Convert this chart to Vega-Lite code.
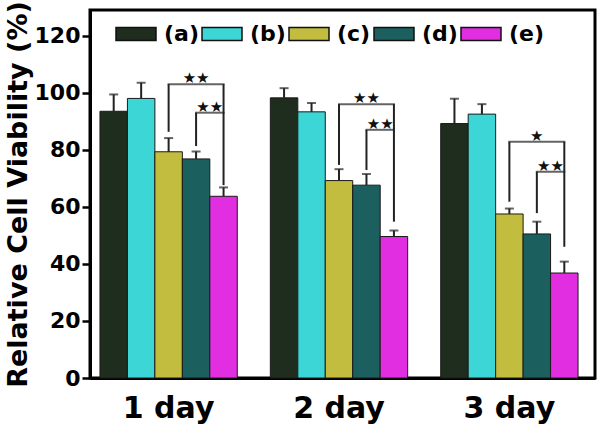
{
  "$schema": "https://vega.github.io/schema/vega-lite/v6.json",
  "width": 505,
  "height": 368,
  "autosize": "none",
  "padding": {"left": 90, "top": 10, "right": 5, "bottom": 54},
  "background": "white",
  "config": {
    "view": {"stroke": "black", "strokeWidth": 3},
    "font": "DejaVu Sans"
  },
  "datasets": {
    "bars": [
      {"day": "1 day", "series": "(a)", "value": 93.5, "upper": 99.4},
      {"day": "1 day", "series": "(b)", "value": 98, "upper": 103.5},
      {"day": "1 day", "series": "(c)", "value": 79.3, "upper": 84.1},
      {"day": "1 day", "series": "(d)", "value": 76.8, "upper": 79.4},
      {"day": "1 day", "series": "(e)", "value": 63.7, "upper": 66.8},
      {"day": "2 day", "series": "(a)", "value": 98.2, "upper": 101.6},
      {"day": "2 day", "series": "(b)", "value": 93.3, "upper": 96.4},
      {"day": "2 day", "series": "(c)", "value": 69.2, "upper": 73.2},
      {"day": "2 day", "series": "(d)", "value": 67.6, "upper": 71.5},
      {"day": "2 day", "series": "(e)", "value": 49.6, "upper": 51.7},
      {"day": "3 day", "series": "(a)", "value": 89.2, "upper": 97.9},
      {"day": "3 day", "series": "(b)", "value": 92.5, "upper": 96},
      {"day": "3 day", "series": "(c)", "value": 57.5, "upper": 59.4},
      {"day": "3 day", "series": "(d)", "value": 50.5, "upper": 54.8},
      {"day": "3 day", "series": "(e)", "value": 36.8, "upper": 40.8}
    ],
    "legs": [
      {"day": "1 day", "series": "(c)", "top": 103, "bottom": 86.3},
      {"day": "1 day", "series": "(d)", "top": 93, "bottom": 81.3},
      {"day": "1 day", "series": "(e)", "top": 103, "bottom": 67.6},
      {"day": "2 day", "series": "(c)", "top": 96, "bottom": 74.7},
      {"day": "2 day", "series": "(d)", "top": 87, "bottom": 72.9},
      {"day": "2 day", "series": "(e)", "top": 96, "bottom": 54.8},
      {"day": "3 day", "series": "(c)", "top": 82.8, "bottom": 61.8},
      {"day": "3 day", "series": "(d)", "top": 72.3, "bottom": 57.8},
      {"day": "3 day", "series": "(e)", "top": 82.8, "bottom": 46}
    ],
    "outer": [
      {"day": "1 day", "series": "(d)", "y": 103, "label": "★★"},
      {"day": "2 day", "series": "(d)", "y": 96, "label": "★★"},
      {"day": "3 day", "series": "(d)", "y": 82.8, "label": "★"}
    ],
    "inner": [
      {"day": "1 day", "y": 93, "label": "★★"},
      {"day": "2 day", "y": 87, "label": "★★"},
      {"day": "3 day", "y": 72.3, "label": "★★"}
    ]
  },
  "encoding": {
    "x": {
      "field": "day", "type": "nominal",
      "scale": {"domain": ["1 day", "2 day", "3 day"], "paddingInner": 0.194, "paddingOuter": 0.079, "align": 0.37},
      "axis": {
        "title": null, "labelAngle": 0, "ticks": false,
        "labelFont": "DejaVu Sans", "labelFontWeight": "bold", "labelFontSize": 30, "labelColor": "black",
        "labelPadding": 15, "domainColor": "black", "domainWidth": 3
      }
    }
  },
  "layer": [
    {
      "data": {"name": "bars"},
      "mark": {"type": "bar", "stroke": "#1a1a1a", "strokeWidth": 1},
      "encoding": {
        "xOffset": {
          "field": "series", "type": "nominal",
          "scale": {"domain": ["(a)", "(b)", "(c)", "(d)", "(e)"], "paddingInner": 0, "paddingOuter": 0}
        },
        "y": {
          "field": "value", "type": "quantitative",
          "scale": {"domain": [0, 129], "nice": false},
          "axis": {
            "title": "Relative Cell Viability (%)",
            "values": [0, 10, 20, 30, 40, 50, 60, 70, 80, 90, 100, 110, 120],
            "labelExpr": "datum.value % 20 === 0 ? datum.label : ''",
            "tickSize": {"condition": {"test": "datum.value % 20 === 0", "value": 8}, "value": 5},
            "tickWidth": 2.5, "tickColor": "black",
            "grid": false,
            "labelFont": "DejaVu Sans", "labelFontWeight": "bold", "labelFontSize": 22, "labelColor": "black",
            "labelPadding": 2,
            "titleFont": "DejaVu Sans", "titleFontWeight": "bold", "titleFontSize": 27, "titleColor": "black",
            "titlePadding": 2,
            "domainColor": "black", "domainWidth": 3
          }
        },
        "color": {
          "field": "series", "type": "nominal",
          "scale": {"domain": ["(a)", "(b)", "(c)", "(d)", "(e)"], "range": ["#1f2d1f", "#3cd6d6", "#c2bd3e", "#1b5f5f", "#e02ee0"]},
          "legend": {
            "title": null, "orient": "none", "direction": "horizontal",
            "legendX": 25, "legendY": 3, "padding": 0,
            "symbolType": "M-1,-0.33H1V0.33H-1Z", "symbolSize": 1600,
            "symbolStrokeColor": "#111", "symbolStrokeWidth": 1.5, "symbolOpacity": 1,
            "labelFont": "DejaVu Sans", "labelFontWeight": "bold", "labelFontSize": 22, "labelColor": "black",
            "labelOffset": 7, "columnPadding": 0
          }
        }
      }
    },
    {
      "data": {"name": "bars"},
      "mark": {"type": "rule", "color": "#222", "strokeWidth": 2},
      "encoding": {
        "xOffset": {"field": "series", "type": "nominal"},
        "y": {"field": "value", "type": "quantitative"},
        "y2": {"field": "upper"}
      }
    },
    {
      "data": {"name": "bars"},
      "mark": {"type": "tick", "color": "#222", "thickness": 2, "size": 9},
      "encoding": {
        "xOffset": {"field": "series", "type": "nominal"},
        "y": {"field": "upper", "type": "quantitative"}
      }
    },
    {
      "data": {"name": "legs"},
      "mark": {"type": "rule", "color": "#222", "strokeWidth": 2},
      "encoding": {
        "xOffset": {"field": "series", "type": "nominal"},
        "y": {"field": "bottom", "type": "quantitative"},
        "y2": {"field": "top"}
      }
    },
    {
      "data": {"name": "outer"},
      "mark": {"type": "tick", "color": "#222", "thickness": 2, "size": {"expr": "2*bandwidth('xOffset')+2"}},
      "encoding": {
        "xOffset": {"field": "series", "type": "nominal"},
        "y": {"field": "y", "type": "quantitative"}
      }
    },
    {
      "data": {"name": "outer"},
      "mark": {"type": "text", "baseline": "bottom", "dy": 2, "fontSize": 15, "color": "#111", "font": "DejaVu Sans"},
      "encoding": {
        "xOffset": {"field": "series", "type": "nominal"},
        "y": {"field": "y", "type": "quantitative"},
        "text": {"field": "label"}
      }
    },
    {
      "data": {"name": "inner"},
      "mark": {"type": "tick", "color": "#222", "thickness": 2, "size": {"expr": "bandwidth('xOffset')+2"}, "xOffset": {"expr": "1.5*bandwidth('xOffset')"}},
      "encoding": {
        "y": {"field": "y", "type": "quantitative"}
      }
    },
    {
      "data": {"name": "inner"},
      "mark": {"type": "text", "baseline": "bottom", "dy": 2, "fontSize": 15, "color": "#111", "font": "DejaVu Sans", "xOffset": {"expr": "1.5*bandwidth('xOffset')"}},
      "encoding": {
        "y": {"field": "y", "type": "quantitative"},
        "text": {"field": "label"}
      }
    }
  ]
}
